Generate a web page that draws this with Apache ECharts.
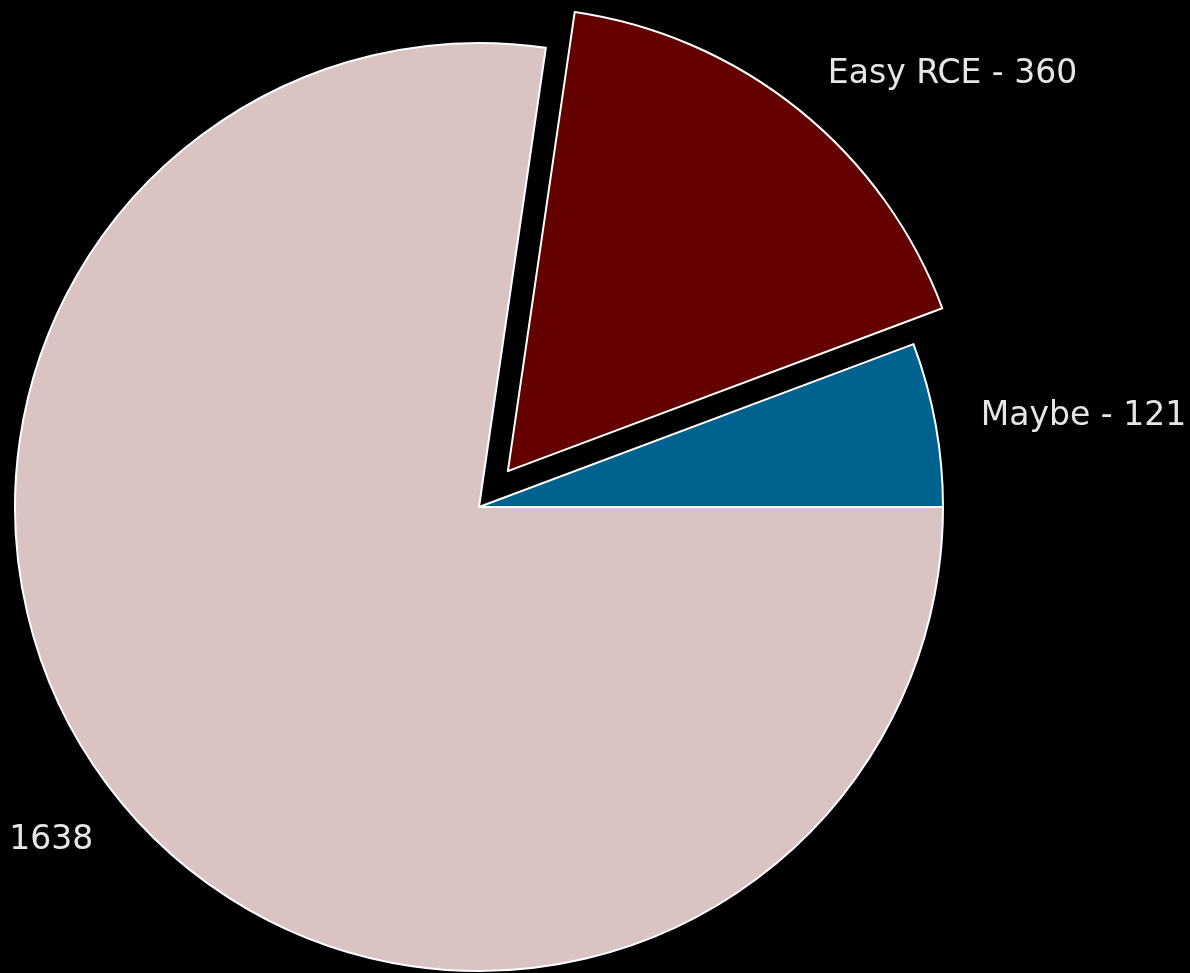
<!DOCTYPE html>
<html>
<head>
<meta charset="utf-8">
<script src="https://cdn.jsdelivr.net/npm/echarts@6/dist/echarts.min.js"></script>
<style>
    html, body { margin: 0; padding: 0; background: #000; }
    #chart { width: 1190px; height: 973px; }
</style>
</head>
<body>
<div id="chart"></div>
<script>
// slice order follows the picture, counter-clockwise from 3 o'clock
const sliceNames = ['Maybe', 'Easy RCE', ''];
const sliceValues = [121, 360, 1638];
const sliceColors = ['#00628f', '#640000', '#d9c3c3'];
const explodedSlice = 'Easy RCE';

const chart = echarts.init(document.getElementById('chart'));

const option = {
    backgroundColor: '#000',
    animation: false,
    series: [
        {
            type: 'pie',
            left: 0,
            top: 0,
            right: -300, // room so right-side labels are not clipped
            bottom: 0,
            center: [479, 507],
            radius: 464,
            startAngle: 0,
            clockwise: false,
            selectedMode: 'single',
            selectedOffset: 46,
            avoidLabelOverlap: false,
            itemStyle: {
                borderColor: '#ffffff',
                borderWidth: 2
            },
            label: {
                show: true,
                position: 'outside',
                color: '#e6e6e6',
                fontFamily: 'DejaVu Sans',
                fontSize: 33,
                distanceToLabelLine: 0,
                formatter: (p) => p.name ? p.name + ' - ' + p.value : String(p.value)
            },
            labelLine: {
                show: false,
                length: 46, // ~0.1 of radius, like matplotlib labeldistance 1.1
                length2: 0
            },
            emphasis: { disabled: true },
            data: sliceNames.map((name, i) => ({
                name: name,
                value: sliceValues[i],
                selected: name === explodedSlice,
                itemStyle: { color: sliceColors[i] }
            }))
        }
    ]
};

chart.setOption(option);
</script>
</body>
</html>
